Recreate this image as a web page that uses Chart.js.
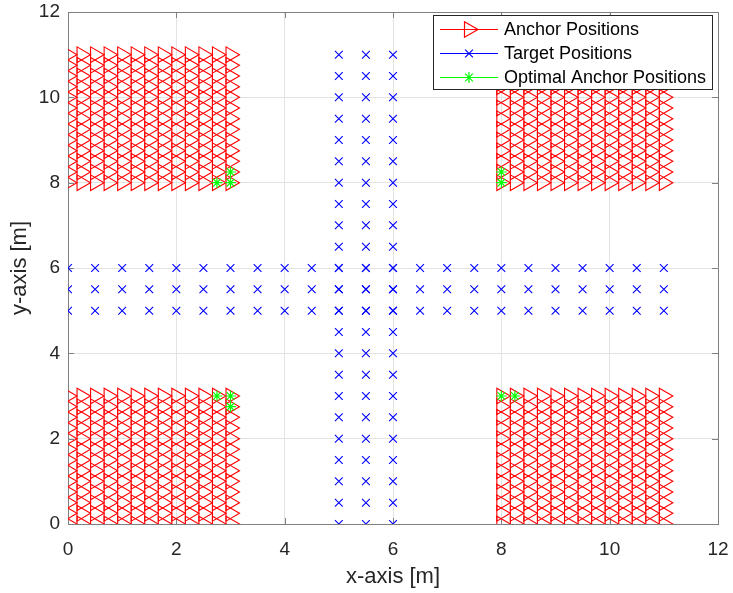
<!DOCTYPE html>
<html><head><meta charset="utf-8">
<script src="https://cdn.jsdelivr.net/npm/chart.js@4.4.1/dist/chart.umd.min.js"></script>
<style>html,body{margin:0;padding:0;background:#fff}#wrap{width:733px;height:593px;position:relative}</style>
</head><body><div id="wrap"><canvas id="c"></canvas></div>
<script>
// ---- data ----
const anchorXLeft   = [0, 0.25, 0.5, 0.75, 1, 1.25, 1.5, 1.75, 2, 2.25, 2.5, 2.75, 3];
const anchorXRight  = [8, 8.25, 8.5, 8.75, 9, 9.25, 9.5, 9.75, 10, 10.25, 10.5, 10.75, 11];
const anchorYBottom = [0, 0.25, 0.5, 0.75, 1, 1.25, 1.5, 1.75, 2, 2.25, 2.5, 2.75, 3];
const anchorYTop    = [8, 8.25, 8.5, 8.75, 9, 9.25, 9.5, 9.75, 10, 10.25, 10.5, 10.75, 11];

const targetColX = [5, 5.5, 6];
const targetColY = [0, 0.5, 1, 1.5, 2, 2.5, 3, 3.5, 4, 4.5, 5, 5.5, 6, 6.5, 7, 7.5, 8, 8.5, 9, 9.5, 10, 10.5, 11];
const targetRowY = [5, 5.5, 6];
const targetRowX = [0, 0.5, 1, 1.5, 2, 2.5, 3, 3.5, 4, 4.5, 5, 5.5, 6, 6.5, 7, 7.5, 8, 8.5, 9, 9.5, 10, 10.5, 11];

const optimalX = [2.75, 3, 3, 8, 8, 2.75, 3, 3, 8, 8.25];
const optimalY = [8, 8, 8.25, 8, 8.25, 3, 3, 2.75, 3, 3];

const xTickValues = [0, 2, 4, 6, 8, 10, 12];
const yTickValues = [0, 2, 4, 6, 8, 10, 12];

const seriesLabels = ['Anchor Positions', 'Target Positions', 'Optimal Anchor Positions'];
const xTitle = 'x-axis [m]';
const yTitle = 'y-axis [m]';

// ---- build point tables (meshgrid of the arrays above) ----
function mesh(xs, ys) { const p = []; for (const x of xs) for (const y of ys) p.push({x, y}); return p; }
const anchorPoints = [].concat(
  mesh(anchorXLeft, anchorYTop), mesh(anchorXRight, anchorYTop),
  mesh(anchorXLeft, anchorYBottom), mesh(anchorXRight, anchorYBottom));
const targetPoints = [].concat(mesh(targetColX, targetColY), mesh(targetRowX, targetRowY));
const optimalPoints = optimalX.map((x, i) => ({x, y: optimalY[i]}));

const FONT = '"Liberation Sans", Arial, sans-serif';
const AXIS_COLOR = '#808080';
const TEXT_COLOR = '#262626';

function zeroPad(s) { s.paddingTop = 0; s.paddingBottom = 0; s.paddingLeft = 0; s.paddingRight = 0; }

const boxPlugin = {
  id: 'matlabBox',
  beforeDatasetsDraw(chart) {
    const {ctx, chartArea: a, scales: {x, y}} = chart;
    ctx.save();
    ctx.strokeStyle = AXIS_COLOR; ctx.lineWidth = 1;
    ctx.beginPath();
    const L = 6;
    x.ticks.forEach(t => {
      const px = Math.round(x.getPixelForValue(t.value)) + 0.5;
      ctx.moveTo(px, a.bottom); ctx.lineTo(px, a.bottom - L);
      ctx.moveTo(px, a.top); ctx.lineTo(px, a.top + L);
    });
    y.ticks.forEach(t => {
      const py = Math.round(y.getPixelForValue(t.value)) + 0.5;
      ctx.moveTo(a.left, py); ctx.lineTo(a.left + L, py);
      ctx.moveTo(a.right, py); ctx.lineTo(a.right - L, py);
    });
    ctx.stroke();
    ctx.beginPath();
    ctx.moveTo(Math.round(a.left) + 0.5, Math.round(a.top) + 0.5);
    ctx.lineTo(Math.round(a.right) + 0.5, Math.round(a.top) + 0.5);
    ctx.lineTo(Math.round(a.right) + 0.5, Math.round(a.bottom) + 0.5);
    ctx.stroke();
    ctx.restore();
  }
};

const legendPlugin = {
  id: 'boxLegend',
  afterDraw(chart) {
    const ctx = chart.ctx;
    const x0 = 433.5, y0 = 15.5, x1 = 712.5, y1 = 89.5;
    ctx.save();
    ctx.fillStyle = '#fff';
    ctx.fillRect(x0, y0, x1 - x0, y1 - y0);
    ctx.strokeStyle = '#262626'; ctx.lineWidth = 1;
    ctx.strokeRect(x0, y0, x1 - x0, y1 - y0);
    chart.data.datasets.forEach((ds, i) => {
      const cy = 29.5 + i * 24;
      ctx.strokeStyle = ds.borderColor; ctx.lineWidth = 1.2;
      ctx.beginPath(); ctx.moveTo(440, cy); ctx.lineTo(498, cy); ctx.stroke();
      ctx.fillStyle = 'rgba(0,0,0,0)';
      Chart.helpers.drawPoint(ctx, {pointStyle: ds.pointStyle, rotation: ds.rotation || 0,
        radius: ds.pointRadius, borderWidth: 1}, 469, cy);
      ctx.fillStyle = '#000';
      ctx.font = '18px ' + FONT;
      ctx.textBaseline = 'middle'; ctx.textAlign = 'left';
      ctx.fillText(ds.label, 504, cy + 1);
    });
    ctx.restore();
  }
};

new Chart(document.getElementById('c'), {
  type: 'scatter',
  data: {
    datasets: [
      { label: seriesLabels[0], data: anchorPoints, order: 3,
        pointStyle: 'triangle', rotation: 90, pointRadius: 9,
        borderColor: '#ff0000', backgroundColor: 'rgba(0,0,0,0)', borderWidth: 1.1 },
      { label: seriesLabels[1], data: targetPoints, order: 2,
        pointStyle: 'crossRot', pointRadius: 5.5,
        borderColor: '#0000ff', backgroundColor: 'rgba(0,0,0,0)', borderWidth: 1.1 },
      { label: seriesLabels[2], data: optimalPoints, order: 1,
        pointStyle: 'star', pointRadius: 5.5,
        borderColor: '#00ff00', backgroundColor: 'rgba(0,0,0,0)', borderWidth: 1.2 }
    ]
  },
  options: {
    responsive: true, maintainAspectRatio: false, animation: false, events: [],
    layout: {autoPadding: false, padding: {top: 12, right: 15, left: 0, bottom: 0}},
    plugins: {legend: {display: false}, tooltip: {enabled: false}},
    scales: {
      x: {
        type: 'linear', min: 0, max: 12,
        afterBuildTicks: s => { s.ticks = xTickValues.map(v => ({value: v})); },
        afterFit: s => { s.height = 69; zeroPad(s); },
        grid: {color: '#e3e3e3', drawTicks: false},
        border: {color: AXIS_COLOR, width: 1},
        ticks: {padding: 14, color: TEXT_COLOR, font: {family: FONT, size: 19}, maxRotation: 0},
        title: {display: true, text: xTitle, color: TEXT_COLOR, font: {family: FONT, size: 22}, padding: {top: 0, bottom: 3}}
      },
      y: {
        type: 'linear', min: 0, max: 12,
        afterBuildTicks: s => { s.ticks = yTickValues.map(v => ({value: v})); },
        afterFit: s => { s.width = 68; zeroPad(s); },
        grid: {color: '#e3e3e3', drawTicks: false},
        border: {color: AXIS_COLOR, width: 1},
        ticks: {padding: 8, color: TEXT_COLOR, font: {family: FONT, size: 19}},
        title: {display: true, text: yTitle, color: TEXT_COLOR, font: {family: FONT, size: 22}, padding: {top: 7, bottom: 0}}
      }
    }
  },
  plugins: [boxPlugin, legendPlugin]
});
</script>
</body></html>
